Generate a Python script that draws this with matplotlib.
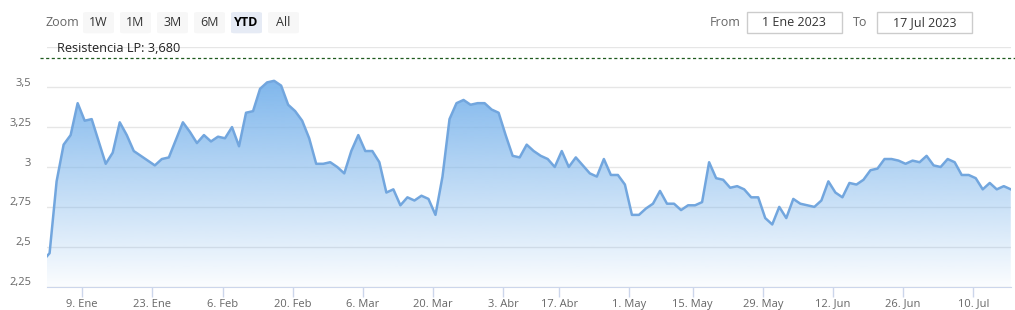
import numpy as np
import pandas as pd
import matplotlib
matplotlib.use("Agg")
from matplotlib import pyplot as plt
from matplotlib.patches import FancyBboxPatch, Rectangle
from matplotlib.colors import to_rgb
from matplotlib.transforms import ScaledTranslation

# trading days (ordinal axis), 30 Dec 2022 is only partly visible on the left
holidays = ["2023-04-07", "2023-04-10", "2023-05-01"]
dates = pd.bdate_range("2022-12-30", "2023-07-17")
dates = dates[~dates.isin(pd.to_datetime(holidays))]

values = [
    2.41,
    2.46, 2.91, 3.14, 3.20, 3.40, 3.29, 3.30, 3.16, 3.02, 3.09,
    3.28, 3.20, 3.10, 3.07, 3.04, 3.01, 3.05, 3.06, 3.17, 3.28,
    3.22, 3.15, 3.20, 3.16, 3.19, 3.18, 3.25, 3.13, 3.34, 3.35,
    3.49, 3.53, 3.54, 3.51, 3.39, 3.35, 3.29, 3.18, 3.02, 3.02,
    3.03, 3.00, 2.96, 3.10, 3.20, 3.10, 3.10, 3.03, 2.84, 2.86,
    2.76, 2.81, 2.79, 2.82, 2.80, 2.70, 2.94, 3.30, 3.40, 3.42,
    3.39, 3.40, 3.40, 3.36, 3.34, 3.20, 3.07, 3.06, 3.14, 3.10,
    3.07, 3.05, 3.00, 3.10, 3.00, 3.06, 3.01, 2.96, 2.94, 3.05,
    2.95, 2.95, 2.89, 2.70, 2.70, 2.74, 2.77, 2.85, 2.77, 2.77,
    2.73, 2.76, 2.76, 2.78, 3.03, 2.93, 2.92, 2.87, 2.88, 2.86,
    2.81, 2.81, 2.68, 2.64, 2.75, 2.68, 2.80, 2.77, 2.76, 2.75,
    2.79, 2.91, 2.84, 2.81, 2.90, 2.89, 2.92, 2.98, 2.99, 3.05,
    3.05, 3.04, 3.02, 3.04, 3.03, 3.07, 3.01, 3.00, 3.05, 3.03,
    2.95, 2.95, 2.93, 2.86, 2.90, 2.86, 2.88, 2.86,
]

tick_dates = ["2023-01-09", "2023-01-23", "2023-02-06", "2023-02-20", "2023-03-06",
              "2023-03-20", "2023-04-03", "2023-04-17", "2023-05-01", "2023-05-15",
              "2023-05-29", "2023-06-12", "2023-06-26", "2023-07-10"]
tick_labels = ["9. Ene", "23. Ene", "6. Feb", "20. Feb", "6. Mar", "20. Mar", "3. Abr",
               "17. Abr", "1. May", "15. May", "29. May", "12. Jun", "26. Jun", "10. Jul"]

y_ticks = [2.25, 2.5, 2.75, 3.0, 3.25, 3.5, 3.75]
y_labels = ["2,25", "2,5", "2,75", "3", "3,25", "3,5", ""]

resistance = 3.68
zoom_buttons = ["1W", "1M", "3M", "6M", "YTD", "All"]
date_from = "1 Ene 2023"
date_to = "17 Jul 2023"

W, H = 1015, 310
FONT = "Open Sans"
plt.rcParams["font.family"] = [FONT, "DejaVu Sans"]


def fx(px):
    return px / W


def fy(py):
    return 1 - py / H


fig = plt.figure(figsize=(W / 100, H / 100), dpi=100)
ax = fig.add_axes([fx(46.5), fy(286.7), fx(1010.8) - fx(46.5), fy(47.3) - fy(286.7)])

x = np.arange(len(values)) - 1
y = np.array(values)
base = 2.25
blue = "#7cb5ec"

# gradient area, clipped to the filled polygon
fill = ax.fill_between(x, y, base, color="none", lw=0)
grad = np.zeros((256, 1, 4))
grad[:, 0, :3] = to_rgb(blue)
grad[:, 0, 3] = np.linspace(0.03, 0.97, 256)
img = ax.imshow(grad, extent=[x.min(), x.max(), base, y.max()], origin="lower",
                aspect="auto", zorder=1, interpolation="bilinear")
img.set_clip_path(fill.get_paths()[0], transform=ax.transData)
ax.plot(x, y, color="#72a6de", lw=1.8, zorder=3, solid_joinstyle="round")

# resistance plot line, a bit wider than the plot area
ax.plot([-0.007, 1.004], [resistance, resistance], transform=ax.get_yaxis_transform(),
        color="#1e5a1e", lw=0.9, ls=(0, (2.5, 2)), zorder=4, clip_on=False)
ax.text(0.011, 3.703, "Resistencia LP: 3,680", transform=ax.get_yaxis_transform(),
        fontsize=9.2, color="#222222", va="bottom", ha="left")

ax.set_xlim(-0.44, x.max())
ax.set_ylim(2.25, 3.75)

tick_pos = [np.searchsorted(dates, pd.Timestamp(d)) - 1 - 0.35 for d in tick_dates]
ax.set_xticks(tick_pos)
ax.set_xticklabels(tick_labels, fontsize=8, color="#666666")
ax.tick_params(axis="x", length=7, width=1, color="#ccd6eb", pad=1.5)

ax.set_yticks(y_ticks)
ax.set_yticklabels(y_labels, fontsize=8, color="#666666")
ax.tick_params(axis="y", length=0, pad=11)
offset = ScaledTranslation(0, 5.5 / 100, fig.dpi_scale_trans)
for lab in ax.get_yticklabels():
    lab.set_transform(lab.get_transform() + offset)
ax.grid(axis="y", color="#e6e6e6", lw=1)
ax.set_axisbelow(True)

for s in ["top", "right", "left"]:
    ax.spines[s].set_visible(False)
ax.spines["bottom"].set_color("#ccd6eb")
ax.spines["bottom"].set_zorder(5)

# range selector
fig.text(fx(46), fy(22.5), "Zoom", fontsize=9, color="#666666", va="center", ha="left")
bx = 83
for b in zoom_buttons:
    active = b == "YTD"
    fig.patches.append(FancyBboxPatch((fx(bx), fy(33.3)), fx(31), fy(12) - fy(33.3),
                                      boxstyle="round,pad=0,rounding_size=0.004",
                                      transform=fig.transFigure,
                                      fc="#e6ebf5" if active else "#f7f7f7", ec="none"))
    fig.text(fx(bx + 15.5), fy(22.5), b, fontsize=9, ha="center", va="center",
             color="#000000" if active else "#333333",
             fontweight="bold" if active else "normal")
    bx += 37

fig.text(fx(710), fy(22.5), "From", fontsize=9, color="#666666", va="center", ha="left")
fig.text(fx(853), fy(22.5), "To", fontsize=9, color="#666666", va="center", ha="left")
for x0, x1, txt in [(746.7, 841.7, date_from), (877, 971.7, date_to)]:
    fig.patches.append(Rectangle((fx(x0), fy(33.3)), fx(x1 - x0), fy(12.3) - fy(33.3),
                                 transform=fig.transFigure, fc="white", ec="#cccccc", lw=1))
    fig.text(fx((x0 + x1) / 2), fy(22.5), txt, fontsize=9, color="#333333",
             ha="center", va="center")

fig.savefig("out.png", dpi=100)
